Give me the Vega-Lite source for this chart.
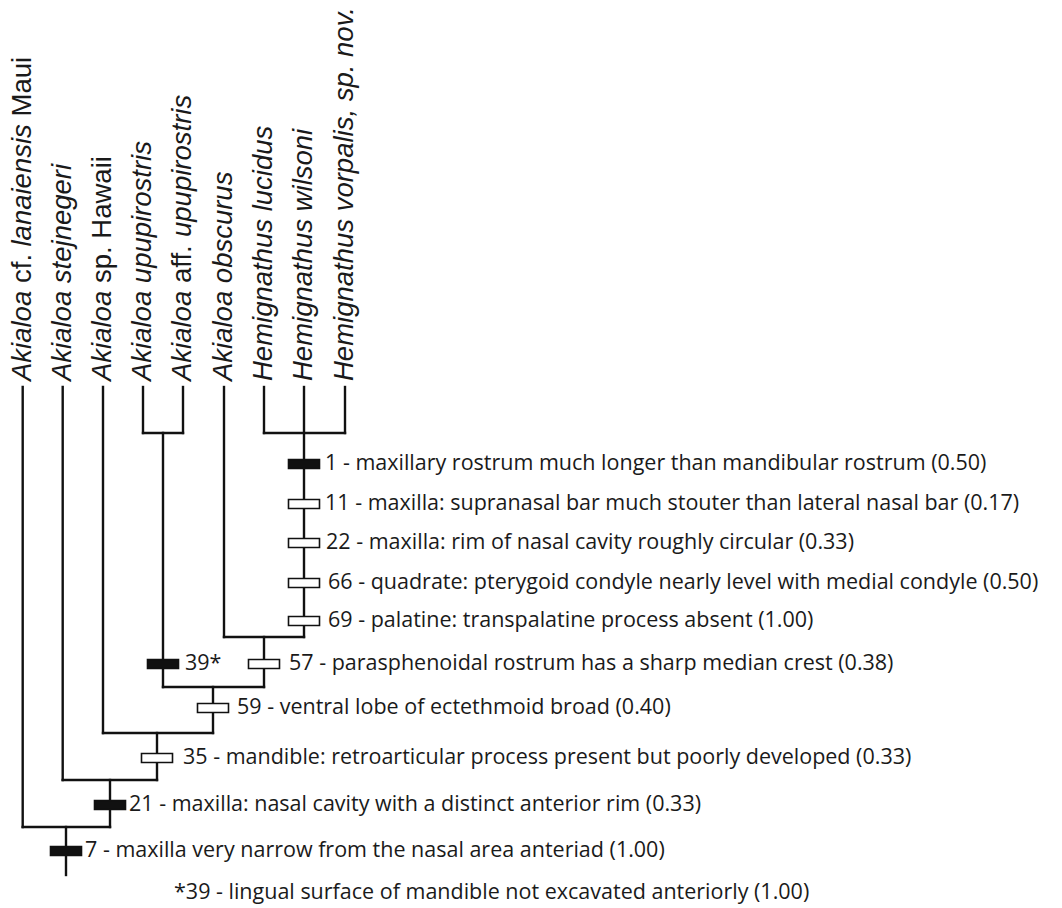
{
  "$schema": "https://vega.github.io/schema/vega-lite/v6.json",
  "width": 1062,
  "height": 908,
  "autosize": {"type": "none"},
  "padding": 0,
  "background": "white",
  "config": {"view": {"stroke": null}, "axis": {"disable": true}},
  "datasets": {
    "branches": [
      {"x": 22.7, "y": 387, "x2": 22.7, "y2": 827},
      {"x": 62.7, "y": 387, "x2": 62.7, "y2": 780},
      {"x": 103, "y": 387, "x2": 103, "y2": 733},
      {"x": 143, "y": 387, "x2": 143, "y2": 433},
      {"x": 183, "y": 387, "x2": 183, "y2": 433},
      {"x": 163, "y": 433, "x2": 163, "y2": 687},
      {"x": 224, "y": 387, "x2": 224, "y2": 637},
      {"x": 264, "y": 387, "x2": 264, "y2": 433},
      {"x": 304, "y": 387, "x2": 304, "y2": 637},
      {"x": 345, "y": 387, "x2": 345, "y2": 433},
      {"x": 264, "y": 637, "x2": 264, "y2": 687},
      {"x": 213, "y": 687, "x2": 213, "y2": 733},
      {"x": 157, "y": 733, "x2": 157, "y2": 780},
      {"x": 110, "y": 780, "x2": 110, "y2": 827},
      {"x": 66, "y": 827, "x2": 66, "y2": 875},
      {"x": 143, "y": 433, "x2": 183, "y2": 433},
      {"x": 264, "y": 433, "x2": 345, "y2": 433},
      {"x": 224, "y": 637, "x2": 304, "y2": 637},
      {"x": 163, "y": 687, "x2": 264, "y2": 687},
      {"x": 103, "y": 733, "x2": 213, "y2": 733},
      {"x": 62.7, "y": 780, "x2": 157, "y2": 780},
      {"x": 22.7, "y": 827, "x2": 110, "y2": 827}
    ],
    "markers": [
      {"character": "1", "x": 304, "y": 464, "state": "black"},
      {"character": "11", "x": 304, "y": 504, "state": "white"},
      {"character": "22", "x": 304, "y": 543, "state": "white"},
      {"character": "66", "x": 304, "y": 583, "state": "white"},
      {"character": "69", "x": 304, "y": 621, "state": "white"},
      {"character": "39", "x": 163, "y": 664, "state": "black"},
      {"character": "57", "x": 264, "y": 664, "state": "white"},
      {"character": "59", "x": 213, "y": 708, "state": "white"},
      {"character": "35", "x": 157, "y": 758, "state": "white"},
      {"character": "21", "x": 110, "y": 805, "state": "black"},
      {"character": "7", "x": 66, "y": 851, "state": "black"}
    ],
    "chars": [
      {"x": 325, "y": 464, "text": "1 - maxillary rostrum much longer than mandibular rostrum (0.50)"},
      {"x": 325, "y": 504, "text": "11 - maxilla: supranasal bar much stouter than lateral nasal bar (0.17)"},
      {"x": 326, "y": 543, "text": "22 - maxilla: rim of nasal cavity roughly circular (0.33)"},
      {"x": 328, "y": 583, "text": "66 - quadrate: pterygoid condyle nearly level with medial condyle (0.50)"},
      {"x": 328, "y": 621, "text": "69 - palatine: transpalatine process absent (1.00)"},
      {"x": 185, "y": 664, "text": "39*"},
      {"x": 289, "y": 664, "text": "57 - parasphenoidal rostrum has a sharp median crest (0.38)"},
      {"x": 237, "y": 708, "text": "59 - ventral lobe of ectethmoid broad (0.40)"},
      {"x": 183, "y": 758, "text": "35 - mandible: retroarticular process present but poorly developed (0.33)"},
      {"x": 129, "y": 805, "text": "21 - maxilla: nasal cavity with a distinct anterior rim (0.33)"},
      {"x": 85, "y": 851, "text": "7 - maxilla very narrow from the nasal area anteriad (1.00)"},
      {"x": 174, "y": 893, "text": "*39 - lingual surface of mandible not excavated anteriorly (1.00)"}
    ],
    "tips": [
      {"x": 22.7, "y": 381, "text": "Akialoa", "style": "italic"},
      {"x": 22.7, "y": 283, "text": "cf.", "style": "normal"},
      {"x": 22.7, "y": 246.5, "text": "lanaiensis", "style": "italic"},
      {"x": 22.7, "y": 116.5, "text": "Maui", "style": "normal"},
      {"x": 62.7, "y": 381, "text": "Akialoa stejnegeri", "style": "italic"},
      {"x": 103, "y": 381, "text": "Akialoa", "style": "italic"},
      {"x": 103, "y": 283, "text": "sp. Hawaii", "style": "normal"},
      {"x": 143, "y": 381, "text": "Akialoa upupirostris", "style": "italic"},
      {"x": 183, "y": 381, "text": "Akialoa", "style": "italic"},
      {"x": 183, "y": 283, "text": "aff.", "style": "normal"},
      {"x": 183, "y": 237, "text": "upupirostris", "style": "italic"},
      {"x": 224, "y": 381, "text": "Akialoa obscurus", "style": "italic"},
      {"x": 264, "y": 381, "text": "Hemignathus lucidus", "style": "italic"},
      {"x": 304, "y": 381, "text": "Hemignathus wilsoni", "style": "italic"},
      {"x": 345, "y": 381, "text": "Hemignathus vorpalis, sp. nov.", "style": "italic"}
    ]
  },
  "layer": [
    {
      "data": {"name": "branches"},
      "mark": {"type": "rule", "stroke": "#111111", "strokeWidth": 2.4, "strokeCap": "square"},
      "encoding": {
        "x": {"field": "x", "type": "quantitative", "scale": {"domain": [0, 1062], "range": [0, 1062], "nice": false, "zero": false}},
        "y": {"field": "y", "type": "quantitative", "scale": {"domain": [0, 908], "range": [0, 908], "nice": false, "zero": false}},
        "x2": {"field": "x2"},
        "y2": {"field": "y2"}
      }
    },
    {
      "data": {"name": "markers"},
      "mark": {"type": "point", "filled": true, "shape": "M-1,-0.29L1,-0.29L1,0.29L-1,0.29Z", "size": 961, "stroke": "#111111", "strokeWidth": 1.6, "opacity": 1},
      "encoding": {
        "x": {"field": "x", "type": "quantitative"},
        "y": {"field": "y", "type": "quantitative"},
        "fill": {"field": "state", "type": "nominal", "scale": {"domain": ["black", "white"], "range": ["#111111", "#ffffff"]}, "legend": null}
      }
    },
    {
      "data": {"name": "chars"},
      "mark": {"type": "text", "align": "left", "baseline": "middle", "font": "Open Sans", "fontSize": 21.5, "fill": "#1a1a1a"},
      "encoding": {
        "x": {"field": "x", "type": "quantitative"},
        "y": {"field": "y", "type": "quantitative"},
        "text": {"field": "text"}
      }
    },
    {
      "data": {"name": "tips"},
      "transform": [{"filter": "datum.style === 'italic'"}],
      "mark": {"type": "text", "align": "left", "baseline": "middle", "angle": 270, "font": "Liberation Sans", "fontStyle": "italic", "fontSize": 27.5, "fill": "#1a1a1a"},
      "encoding": {
        "x": {"field": "x", "type": "quantitative"},
        "y": {"field": "y", "type": "quantitative"},
        "text": {"field": "text"}
      }
    },
    {
      "data": {"name": "tips"},
      "transform": [{"filter": "datum.style === 'normal'"}],
      "mark": {"type": "text", "align": "left", "baseline": "middle", "angle": 270, "font": "Liberation Sans", "fontStyle": "normal", "fontSize": 27.5, "fill": "#1a1a1a"},
      "encoding": {
        "x": {"field": "x", "type": "quantitative"},
        "y": {"field": "y", "type": "quantitative"},
        "text": {"field": "text"}
      }
    }
  ]
}
